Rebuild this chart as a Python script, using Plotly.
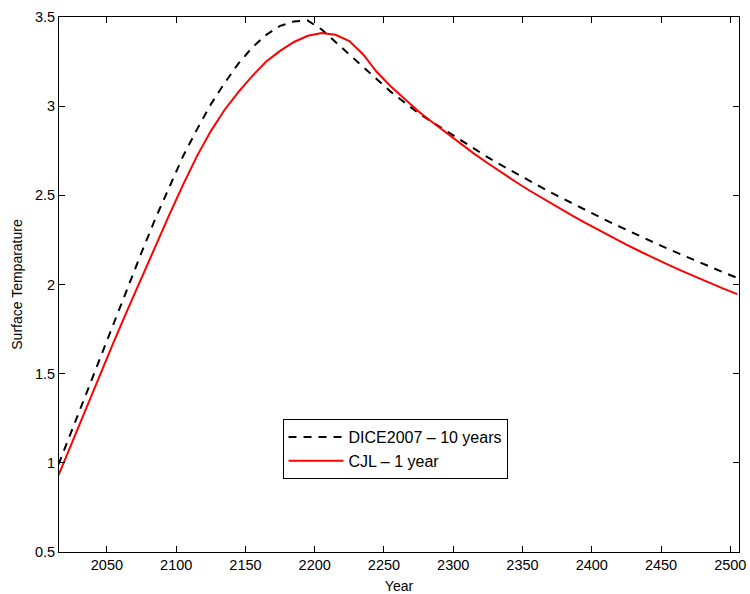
import plotly.graph_objects as go

years = list(range(2015, 2506, 10))

dice_temp = [0.99, 1.19, 1.39, 1.59, 1.79, 1.99, 2.18, 2.37, 2.55, 2.72,
             2.87, 3.01, 3.13, 3.24, 3.33, 3.40, 3.45, 3.475, 3.48, 3.43,
             3.36, 3.29, 3.22, 3.15, 3.08, 3.02, 2.96, 2.91, 2.86, 2.81,
             2.76, 2.713, 2.668, 2.624, 2.581, 2.539, 2.498, 2.458, 2.419, 2.381,
             2.343, 2.306, 2.270, 2.235, 2.200, 2.166, 2.133, 2.100, 2.068, 2.037]

cjl_temp = [0.93, 1.12, 1.30, 1.49, 1.68, 1.86, 2.04, 2.22, 2.39, 2.56,
            2.72, 2.86, 2.98, 3.08, 3.17, 3.25, 3.31, 3.36, 3.395, 3.41,
            3.40, 3.365, 3.29, 3.19, 3.11, 3.04, 2.97, 2.91, 2.85, 2.79,
            2.734, 2.680, 2.627, 2.576, 2.527, 2.480, 2.434, 2.390, 2.347, 2.305,
            2.264, 2.224, 2.185, 2.147, 2.111, 2.076, 2.042, 2.009, 1.977, 1.946]

x_ticks = [2050, 2100, 2150, 2200, 2250, 2300, 2350, 2400, 2450, 2500]
y_ticks = [0.5, 1, 1.5, 2, 2.5, 3, 3.5]
y_tick_text = ["0.5", "1", "1.5", "2", "2.5", "3", "3.5"]

font_family = "Liberation Sans, Arial, Helvetica, sans-serif"

fig = go.Figure()
fig.add_trace(go.Scatter(x=years, y=dice_temp, mode="lines",
                         name="DICE2007 \u2013 10 years",
                         line=dict(color="black", width=2, dash="8px,7px")))
fig.add_trace(go.Scatter(x=years, y=cjl_temp, mode="lines",
                         name="CJL \u2013 1 year",
                         line=dict(color="#ff0000", width=2)))

axis_common = dict(showline=True, linecolor="black", linewidth=1, mirror="ticks",
                   ticks="inside", ticklen=6, tickcolor="black", tickwidth=1,
                   showgrid=False, zeroline=False, automargin=False,
                   tickfont=dict(family=font_family, size=14.5, color="black"))

fig.update_layout(
    width=750, height=594,
    margin=dict(l=59, r=11, t=17, b=42),
    paper_bgcolor="white", plot_bgcolor="white",
    font=dict(family=font_family, size=14, color="black"),
    xaxis=dict(range=[2015.4, 2506.3], tickvals=x_ticks,
               title=dict(text="Year", font=dict(size=14), standoff=9),
               **axis_common),
    yaxis=dict(range=[0.5, 3.5], tickvals=y_ticks, ticktext=y_tick_text,
               title=dict(text="Surface Temparature", font=dict(size=14), standoff=9),
               **axis_common),
    legend=dict(x=0.3287, y=0.2484, xanchor="left", yanchor="top",
                bordercolor="black", borderwidth=1, bgcolor="white",
                font=dict(family=font_family, size=16),
                itemwidth=55, tracegroupgap=0),
    showlegend=True,
)

fig.write_html("out.html")
